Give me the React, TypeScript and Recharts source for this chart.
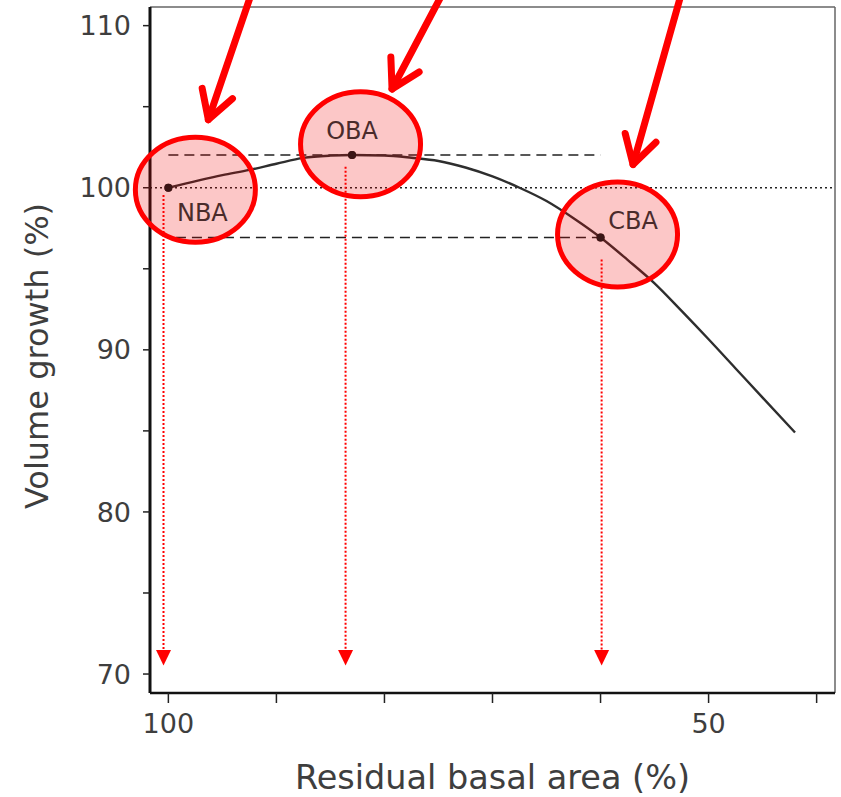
import React from 'react';
import {
  ComposedChart,
  Line,
  Scatter,
  XAxis,
  YAxis,
  ReferenceLine,
  ReferenceDot,
  Label,
} from 'recharts';

// Growth curve: residual basal area (%) vs volume growth (%)
const basalArea = [100, 95, 92.5, 90, 87.5, 85, 83, 80, 77.5, 75, 72.5, 70, 67.5, 65, 62.5, 60, 57.5, 55, 52.5, 50, 47.5, 45, 42];
const volumeGrowth = [100, 100.78, 101.1, 101.48, 101.84, 101.98, 102.02, 101.99, 101.85, 101.65, 101.25, 100.7, 100.0, 99.18, 98.12, 96.93, 95.55, 94.1, 92.4, 90.65, 88.85, 87.05, 84.9];

// Key points
const keyNames = ['NBA', 'OBA', 'CBA'];
const keyX = [100, 83, 60];
const keyY = [100, 102.02, 96.93];

// Red dotted drop arrows (x position, start level)
const dropX = [100.45, 83.6, 59.9];
const dropStartY = [99.55, 101.3, 95.57];
const dropEndY = 71.0;
const dropHeadY = 71.48;

// Axis ticks
const xTicks = [100, 90, 80, 70, 60, 50, 40];
const xLabelled = [100, 50];
const yTicks = [70, 75, 80, 85, 90, 95, 100, 105, 110];
const yLabelled = [70, 80, 90, 100, 110];

const xDomain = [38.3, 101.7];
const yDomain = [68.83, 111.15];

const curveData = basalArea.map((x, i) => ({ x, y: volumeGrowth[i] }));
const keyData = keyX.map((x, i) => ({ x, y: keyY[i], name: keyNames[i] }));

// Annotation pixel offsets relative to each key point (ellipse, label, arrow)
const ellipseOff = [
  [27, 2],
  [8.5, -10.7],
  [17, -3],
];
const labelOff = [
  [34, 25],
  [0, -24],
  [32.5, -17],
];
const arrowTipOff = [
  [40, -68],
  [40, -66],
  [32.5, -73],
];
const arrowTailOff = [
  [85, -200],
  [95, -170],
  [82.5, -250],
];

const FONT = '"DejaVu Sans", sans-serif';
const TEXT = '#3e3e3e';

function wings(tx: number, ty: number, sx: number, sy: number) {
  const dx = tx - sx;
  const dy = ty - sy;
  const len = Math.sqrt(dx * dx + dy * dy);
  const ux = dx / len;
  const uy = dy / len;
  const L = 32;
  const a = Math.PI / 6;
  const r1x = Math.cos(a) * ux - Math.sin(a) * uy;
  const r1y = Math.sin(a) * ux + Math.cos(a) * uy;
  const r2x = Math.cos(-a) * ux - Math.sin(-a) * uy;
  const r2y = Math.sin(-a) * ux + Math.cos(-a) * uy;
  return [
    [tx - L * r1x, ty - L * r1y],
    [tx - L * r2x, ty - L * r2y],
  ];
}

function makeEllipseShape(i: number) {
  return (props: any) => {
    const { cx, cy } = props;
    if (cx == null || cy == null) return <g />;
    const ex = cx + ellipseOff[i][0];
    const ey = cy + ellipseOff[i][1];
    return (
      <g>
        <ellipse cx={ex} cy={ey} rx={60} ry={52.5} fill="rgba(240,0,0,0.22)" stroke="#ff0000" strokeWidth={5} />
      </g>
    );
  };
}

function makeLabelShape(i: number) {
  return (props: any) => {
    const { cx, cy } = props;
    if (cx == null || cy == null) return <g />;
    const tx = cx + arrowTipOff[i][0];
    const ty = cy + arrowTipOff[i][1];
    const sx = cx + arrowTailOff[i][0];
    const sy = cy + arrowTailOff[i][1];
    const w = wings(tx, ty, sx, sy);
    return (
      <g>
        <circle cx={cx} cy={cy} r={4} fill="#3a1616" />
        <text
          x={cx + labelOff[i][0]}
          y={cy + labelOff[i][1]}
          textAnchor="middle"
          dominantBaseline="central"
          fontFamily={FONT}
          fontSize={24}
          fill="#4a2b2b"
        >
          {keyNames[i]}
        </text>
        <line x1={sx} y1={sy} x2={tx} y2={ty} stroke="#ff0000" strokeWidth={7} strokeLinecap="round" />
        <polyline
          points={`${w[0][0]},${w[0][1]} ${tx},${ty} ${w[1][0]},${w[1][1]}`}
          fill="none"
          stroke="#ff0000"
          strokeWidth={7}
          strokeLinecap="round"
          strokeLinejoin="round"
        />
      </g>
    );
  };
}

const headShape = (props: any) => {
  const { cx, cy } = props;
  if (cx == null || cy == null) return <g />;
  return <polygon points={`${cx - 7.5},${cy} ${cx + 7.5},${cy} ${cx},${cy + 15.5}`} fill="#ff0000" />;
};

export default function App() {
  return (
    <div style={{ position: 'absolute', left: 0, top: 0, width: 841, height: 797, background: '#fff' }}>
      <ComposedChart width={841} height={797} margin={{ top: 0, right: 0, bottom: 0, left: 0 }}>
        <XAxis
          xAxisId="top"
          orientation="top"
          type="number"
          dataKey="x"
          domain={xDomain}
          reversed
          allowDataOverflow
          height={7}
          tick={false}
          tickLine={false}
          axisLine={{ stroke: '#666', strokeWidth: 1.5 }}
        />
        <YAxis
          yAxisId="right"
          orientation="right"
          type="number"
          domain={yDomain}
          allowDataOverflow
          width={6}
          tick={false}
          tickLine={false}
          axisLine={{ stroke: '#666', strokeWidth: 1.5 }}
        />
        <XAxis
          type="number"
          dataKey="x"
          domain={xDomain}
          reversed
          allowDataOverflow
          ticks={xTicks}
          interval={0}
          height={104}
          tickSize={10}
          tickMargin={11}
          tickFormatter={(v: number) => (xLabelled.includes(v) ? String(v) : '')}
          tick={{ fontFamily: FONT, fontSize: 27, fill: TEXT }}
          tickLine={{ stroke: '#222', strokeWidth: 1.5 }}
          axisLine={{ stroke: '#111', strokeWidth: 2.5 }}
        >
          <Label
            value="Residual basal area (%)"
            position="center"
            dy={32}
            style={{ fontFamily: FONT, fontSize: 33.5, fill: TEXT }}
          />
        </XAxis>
        <YAxis
          type="number"
          domain={yDomain}
          allowDataOverflow
          ticks={yTicks}
          interval={0}
          width={150}
          tickSize={7}
          tickMargin={12}
          tickFormatter={(v: number) => (yLabelled.includes(v) ? String(v) : '')}
          tick={{ fontFamily: FONT, fontSize: 27, fill: TEXT }}
          tickLine={{ stroke: '#222', strokeWidth: 1.5 }}
          axisLine={{ stroke: '#111', strokeWidth: 3 }}
        >
          <Label
            value="Volume growth (%)"
            position="center"
            angle={-90}
            dx={-38}
            dy={6}
            style={{ fontFamily: FONT, fontSize: 32, fill: TEXT, textAnchor: 'middle' }}
          />
        </YAxis>

        <ReferenceLine y={100} stroke="#222" strokeWidth={1.5} strokeDasharray="2 3" />
        <ReferenceLine
          segment={[
            { x: 100, y: keyY[1] },
            { x: keyX[2], y: keyY[1] },
          ]}
          stroke="#222"
          strokeWidth={1.5}
          strokeDasharray="10 6"
        />
        <ReferenceLine
          segment={[
            { x: 99.3, y: keyY[2] },
            { x: keyX[2], y: keyY[2] },
          ]}
          stroke="#222"
          strokeWidth={1.5}
          strokeDasharray="10 6"
        />
        {dropX.map((x, i) => (
          <ReferenceLine
            key={`drop-${i}`}
            segment={[
              { x, y: dropStartY[i] },
              { x, y: dropEndY },
            ]}
            stroke="#ff0000"
            strokeWidth={2}
            strokeDasharray="2 2"
          />
        ))}
        {dropX.map((x, i) => (
          <ReferenceDot key={`head-${i}`} x={x} y={dropHeadY} r={1} shape={headShape} />
        ))}

        <Line
          data={curveData}
          dataKey="y"
          type="monotone"
          stroke="#2e2e2e"
          strokeWidth={2.4}
          dot={false}
          activeDot={false}
          isAnimationActive={false}
        />
        <Scatter data={keyData} dataKey="y" fill="#3a1616" isAnimationActive={false} shape={(p: any) => <circle cx={p.cx} cy={p.cy} r={4} fill="#3a1616" />} />

        {keyX.map((x, i) => (
          <ReferenceDot key={`ell-${i}`} x={x} y={keyY[i]} r={1} shape={makeEllipseShape(i)} />
        ))}
        {keyX.map((x, i) => (
          <ReferenceDot key={`lab-${i}`} x={x} y={keyY[i]} r={1} shape={makeLabelShape(i)} />
        ))}
      </ComposedChart>
    </div>
  );
}
